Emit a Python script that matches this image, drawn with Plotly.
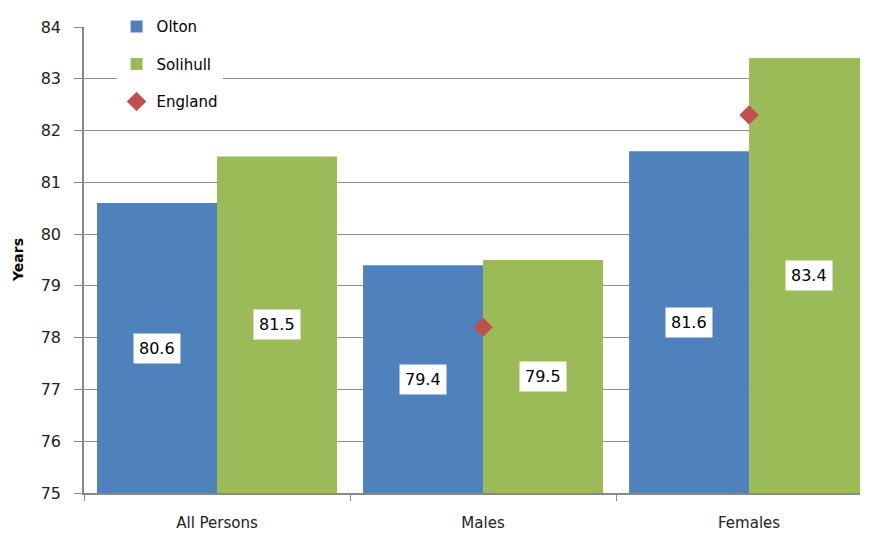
import plotly.graph_objects as go

categories = ["All Persons", "Males", "Females"]
olton = [80.6, 79.4, 81.6]
solihull = [81.5, 79.5, 83.4]
england = [None, 78.2, 82.3]
y_ticks = [75, 76, 77, 78, 79, 80, 81, 82, 83, 84]

BLUE = "#4F81BD"
GREEN = "#9BBB59"
RED = "#C0504D"
FONT = "DejaVu Sans"

fig = go.Figure()
fig.add_trace(go.Bar(x=categories, y=[v - 75 for v in olton], base=75, name="Olton",
                     marker=dict(color=BLUE, line=dict(width=0)), legendgroup="a"))
fig.add_trace(go.Bar(x=categories, y=[v - 75 for v in solihull], base=75, name="Solihull",
                     marker=dict(color=GREEN, line=dict(width=0)), legendgroup="b"))
fig.add_trace(go.Scatter(x=categories, y=england, name="England", mode="markers",
                         marker=dict(symbol="diamond", size=15, color=RED), legendgroup="c"))

for i, c in enumerate(categories):
    for vals, shift in ((olton, -60), (solihull, 60)):
        fig.add_annotation(x=c, y=(75 + vals[i]) / 2, xshift=shift, text=f"{vals[i]:.1f}",
                           showarrow=False, bgcolor="white", borderpad=5,
                           font=dict(family=FONT, size=16, color="black"))

fig.add_annotation(xref="paper", yref="paper", x=-0.085, y=0.5, text="<b>Years</b>",
                   textangle=-90, showarrow=False, xanchor="center", yanchor="middle",
                   font=dict(family=FONT, size=14, color="black"))

fig.update_layout(
    width=861, height=525,
    margin=dict(l=76, r=9, t=19, b=40, autoexpand=False),
    plot_bgcolor="white", paper_bgcolor="white",
    barmode="group", bargap=0.098, bargroupgap=0,
    font=dict(family=FONT, size=14, color="#222"),
    legend=dict(x=0.042, y=1.036, xanchor="left", yanchor="top", bgcolor="white",
                font=dict(family=FONT, size=15, color="black"), tracegroupgap=15,
                itemwidth=30),
    showlegend=True,
)
fig.update_xaxes(range=[-0.5, 2.417], showgrid=False, showline=True, linecolor="#888",
                 linewidth=1.5, ticks="outside", tickson="boundaries", ticklen=6,
                 tickcolor="#888", ticklabelstandoff=15, automargin=False,
                 tickfont=dict(family=FONT, size=15, color="#222"))
fig.update_yaxes(range=[75, 84], tickvals=y_ticks, showgrid=True, gridcolor="#8c8c8c",
                 gridwidth=1.3, showline=True, linecolor="#888", linewidth=1.5,
                 ticks="outside", ticklen=8, tickcolor="#888", zeroline=False,
                 ticklabelstandoff=10, automargin=False,
                 tickfont=dict(family=FONT, size=16, color="#222"))

fig.write_html("out.html")
